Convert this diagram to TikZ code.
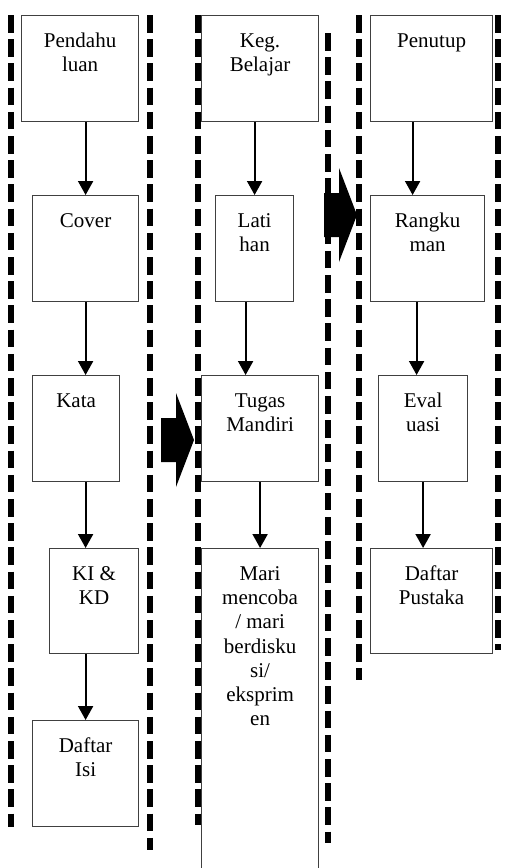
\documentclass[tikz,border=0pt]{standalone}
\usepackage{fontspec}
\setmainfont{Liberation Serif}
\usetikzlibrary{arrows.meta,calc}

\newcommand{\isi}[3]{\parbox[t][#2pt][t]{#1pt}{\centering\vspace*{15pt}\strut #3}}

\tikzset{
	kotak/.style={draw=black!75, line width=1.2pt, inner sep=0pt, anchor=north west, font=\fontsize{21}{24.2}\selectfont},
	panah/.style={-{Triangle[width=15pt,length=14pt]}, line width=2pt},
	garis/.style={line width=6pt, dash pattern=on 17.5pt off 6.7pt}
}

\begin{document}
\begin{tikzpicture}[x=1pt, y=-1pt]
	\clip (0,0) rectangle (506,868);
	\foreach \x/\a/\b in {11/15/827, 150/15/850, 197.5/15/825, 328/33/843, 359/15/680, 498/15/650} \draw[garis] (\x,\a) -- (\x,\b);
	\node[kotak] (pend) at (21,15) {\isi{117}{106}{Pendahu\\luan}};
	\node[kotak] (cover) at (32,195) {\isi{106}{106}{Cover}};
	\node[kotak] (kata) at (32,375) {\isi{87}{106}{Kata}};
	\node[kotak] (kikd) at (49,548) {\isi{89}{105}{KI \&\\KD}};
	\node[kotak] (isi) at (32,720) {\isi{106}{106}{Daftar\\Isi}};
	\node[kotak] (keg) at (201,15) {\isi{117}{106}{Keg.\\Belajar}};
	\node[kotak] (lat) at (215,195) {\isi{78}{106}{Lati\\han}};
	\node[kotak] (tugas) at (201,375) {\isi{117}{106}{Tugas\\Mandiri}};
	\node[kotak] (mari) at (201,548) {\isi{117}{330}{Mari\\mencoba\\/ mari\\berdisku\\si/\\eksprim\\en}};
	\node[kotak] (tutup) at (370,15) {\isi{122}{106}{Penutup}};
	\node[kotak] (rangk) at (370,195) {\isi{114}{106}{Rangku\\man}};
	\node[kotak] (eval) at (378,375) {\isi{89}{106}{Eval\\uasi}};
	\node[kotak] (pustaka) at (370,548) {\isi{122}{105}{Daftar\\Pustaka}};
	\draw[panah] (cover.north |- pend.south) -- (cover.north);
	\draw[panah] (cover.south) -- (cover.south |- kata.north);
	\draw[panah] (kata.south -| cover.south) -- (kikd.north -| cover.south);
	\draw[panah] (kikd.south -| isi.north) -- (isi.north);
	\draw[panah] (lat.north |- keg.south) -- (lat.north);
	\draw[panah] ($(lat.south)+(-9,0)$) -- ($(lat.south |- tugas.north)+(-9,0)$);
	\draw[panah] (tugas.south) -- (tugas.south |- mari.north);
	\draw[panah] ($(tutup.south)+(-19,0)$) -- ($(tutup.south |- rangk.north)+(-19,0)$);
	\draw[panah] ($(rangk.south)+(-11,0)$) -- ($(rangk.south |- eval.north)+(-11,0)$);
	\draw[panah] (eval.south) -- (eval.south |- pustaka.north);
	\foreach \x/\y in {161/440, 324/215} \fill (\x,\y) ++(0,-22) -- ++(15,0) -- ++(0,-25) -- ++(18,47) -- ++(-18,47) -- ++(0,-25) -- ++(-15,0) -- cycle;
\end{tikzpicture}
\end{document}
